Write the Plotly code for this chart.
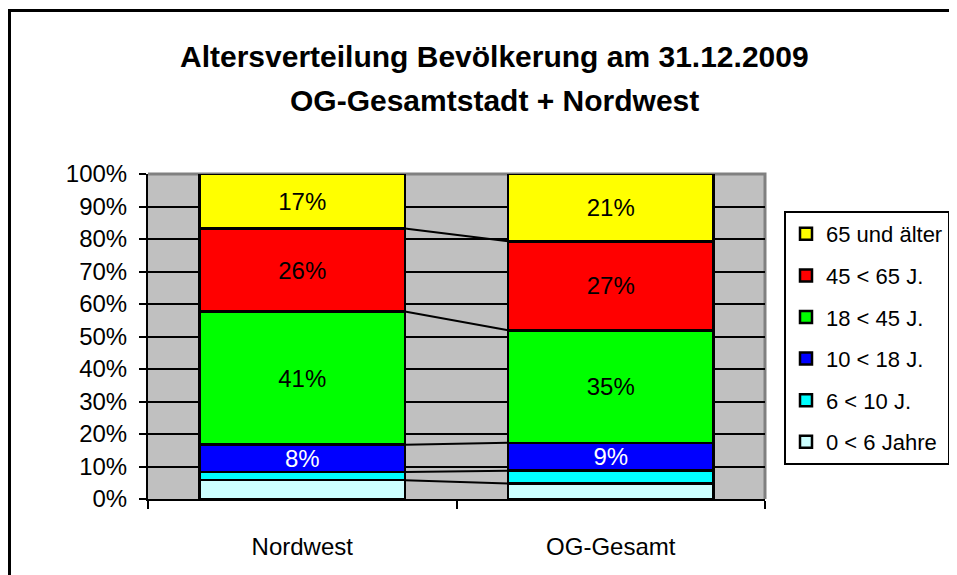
import plotly.graph_objects as go

categories = ["Nordwest", "OG-Gesamt"]
x_pos = [0, 1]
series_names = ["0 < 6 Jahre", "6 < 10 J.", "10 < 18 J.", "18 < 45 J.", "45 < 65 J.", "65 und älter"]
nordwest = [5.8, 2.5, 8.4, 41.0, 25.5, 16.8]
og_gesamt = [4.8, 3.9, 8.6, 34.6, 27.4, 20.7]
colors = ["#CCFFFF", "#00FFFF", "#0000FF", "#00FF00", "#FF0000", "#FFFF00"]
text_colors = ["black", "black", "white", "black", "black", "black"]
show_label = [False, False, True, True, True, True]
y_ticks = list(range(0, 101, 10))

BAR_W = 0.665
FONT = "Liberation Sans, Arial, sans-serif"

fig = go.Figure()

for i, name in enumerate(series_names):
    vals = [nordwest[i], og_gesamt[i]]
    fig.add_trace(go.Bar(
        x=x_pos, y=vals, name=name, width=BAR_W,
        marker=dict(color=colors[i], line=dict(color="black", width=2.5)),
        text=[f"{v:.0f}%" for v in vals] if show_label[i] else None,
        textposition="inside" if show_label[i] else "none",
        insidetextanchor="middle",
        textfont=dict(family=FONT, size=24, color=text_colors[i]),
        legendgroup=name, legendrank=len(series_names) - i,
        hoverinfo="skip",
    ))

# series lines between stacked segments
cum_a, cum_b = 0.0, 0.0
for i in range(len(series_names) - 1):
    cum_a += nordwest[i]
    cum_b += og_gesamt[i]
    fig.add_trace(go.Scatter(
        x=[x_pos[0] + BAR_W / 2, x_pos[1] - BAR_W / 2], y=[cum_a, cum_b],
        mode="lines", line=dict(color="black", width=2),
        showlegend=False, hoverinfo="skip",
    ))

# page body has an 8px margin -> shift everything by -8
OFF = 8
W, H = 957, 575
L, R, T, B = 148 - OFF, 765 - OFF, 174 - OFF, 499 - OFF
pw, ph = R - L, B - T

def px_x(x):
    return (x - OFF - L) / pw

def px_y(y):
    return (B - (y - OFF)) / ph

fx0, fy0 = px_x(9.5), px_y(10.5)
frame_path = f"M {fx0},-0.5 L {fx0},{fy0} L 1.6,{fy0}"

fig.update_layout(
    width=W, height=H,
    margin=dict(l=L, r=W - R, t=T, b=H - B, pad=0, autoexpand=False),
    barmode="stack",
    plot_bgcolor="#C0C0C0",
    paper_bgcolor="white",
    font=dict(family=FONT, size=24, color="black"),
    uniformtext=dict(minsize=24, mode="show"),
    showlegend=True,
    legend=dict(
        x=px_x(784), y=px_y(211), xanchor="left", yanchor="top",
        bordercolor="black", borderwidth=2, bgcolor="white",
        traceorder="grouped", tracegroupgap=10,
        font=dict(family=FONT, size=22, color="black"),
        itemwidth=30,
    ),
    xaxis=dict(
        range=[-0.5, 1.5], tickvals=x_pos, ticktext=categories,
        ticks="", showgrid=False, zeroline=False,
        showline=True, linecolor="black", linewidth=2,
        tickfont=dict(family=FONT, size=24),
        ticklabelstandoff=25,
        minor=dict(tickvals=[-0.5, 0.5, 1.5], ticks="outside", ticklen=8,
                   tickwidth=2, tickcolor="black", showgrid=False),
    ),
    yaxis=dict(
        range=[0, 100], tickvals=y_ticks, ticktext=[f"{v}%" for v in y_ticks],
        ticks="outside", ticklen=7, tickwidth=2, tickcolor="black",
        showline=True, linecolor="black", linewidth=2,
        showgrid=True, gridcolor="black", gridwidth=1.5,
        zeroline=False, tickfont=dict(family=FONT, size=24),
        ticklabelstandoff=7,
    ),
    shapes=[
        dict(type="path", xref="paper", yref="paper",
             path="M 0,1 L 1,1 L 1,0", line=dict(color="#808080", width=3), layer="below"),
        dict(type="path", xref="paper", yref="paper", path=frame_path,
             line=dict(color="black", width=3)),
    ],
    annotations=[
        dict(text="<b>Altersverteilung Bevölkerung am 31.12.2009</b>", xref="paper", yref="paper",
             x=px_x(494), y=px_y(57), xanchor="center", yanchor="middle", showarrow=False,
             font=dict(family=FONT, size=30, color="black")),
        dict(text="<b>OG-Gesamtstadt + Nordwest</b>", xref="paper", yref="paper",
             x=px_x(494), y=px_y(100), xanchor="center", yanchor="middle", showarrow=False,
             font=dict(family=FONT, size=30, color="black")),
    ],
)

fig.write_html("out.html")
